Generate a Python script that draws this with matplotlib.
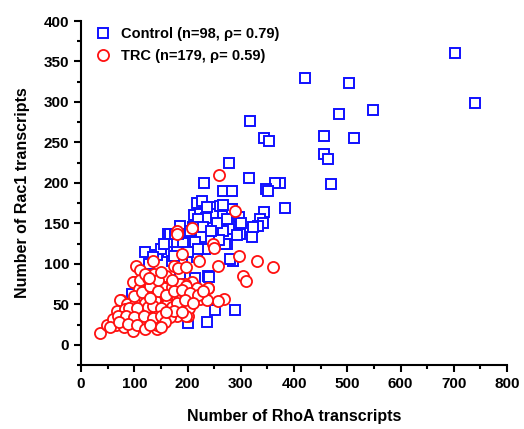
import matplotlib
matplotlib.use("Agg")
import matplotlib.pyplot as plt
from matplotlib.ticker import MultipleLocator

plt.rcParams['font.family'] = ['Liberation Sans', 'DejaVu Sans']

# Control group (blue squares): RhoA vs Rac1 transcripts
control_rhoa = [702, 420, 503, 740, 548, 485, 317, 457, 512, 344, 353, 457, 464, 278, 470,
                374, 315, 231, 365, 267, 283, 348, 352, 384, 343, 245, 266, 283, 217, 228,
                248, 213, 223, 235, 297, 336, 342, 333, 311, 322, 298, 277, 266, 226, 233,
                274, 286, 280, 239, 186, 164, 180, 198, 214, 120, 142, 164, 170, 217, 128,
                161, 252, 289, 237, 200, 323, 292, 270, 220, 192, 183, 167, 180, 127, 95,
                214, 241, 186, 236, 261, 220, 211, 123, 267, 150, 205, 230, 255, 190, 175,
                176, 135, 155, 200, 260, 300, 275, 245]
control_rac1 = [360, 330, 323, 299, 290, 285, 276, 258, 256, 255, 252, 236, 229, 224, 199,
                200, 206, 200, 200, 190, 190, 193, 190, 169, 164, 170, 171, 168, 175, 178,
                161, 160, 162, 157, 158, 156, 151, 147, 142, 133, 137, 143, 140, 133, 118,
                125, 103, 106, 85, 147, 137, 125, 127, 127, 114, 111, 114, 103, 108, 73,
                73, 43, 43, 28, 27, 145, 135, 124, 118, 126, 137, 137, 114, 100, 63,
                83, 84, 88, 170, 172, 155, 145, 75, 173, 118, 140, 145, 150, 100, 110,
                137, 108, 125, 115, 130, 150, 155, 140]

# TRC group (red circles)
trc_rhoa = [259, 289, 209, 180, 180, 248, 249, 189, 221, 297, 330, 360, 258, 305, 309,
            269, 258, 136, 104, 111, 100, 36, 49, 65, 81, 76, 142, 142, 200, 166,
            182, 197, 215, 238, 208, 160, 138, 175, 183, 198, 98, 133, 145, 170, 183,
            195, 83, 73, 87, 95, 111, 120, 101, 85, 123, 136, 139, 158, 170, 180,
            189,
            108, 123, 139, 155, 170, 186, 198, 217, 239,
            117, 133, 148, 164, 180, 195, 211, 224, 236,
            73, 86, 101, 120, 139, 161, 186, 202,
            67, 83, 98, 114, 130, 142, 164, 180, 198,
            61, 76, 92, 111, 123, 142, 167,
            114, 98,
            100, 115, 130, 145, 160, 175, 190, 205, 220, 230,
            90, 105, 125, 135, 150, 170, 180, 195, 210,
            70, 85, 100, 118, 135, 150, 158, 175, 190,
            55, 72, 88, 105, 120, 130, 150, 160, 130,
            110, 125, 145, 170, 120, 150, 128]
trc_rac1 = [210, 165, 144, 140, 137, 125, 120, 112, 104, 110, 104, 96, 97, 85, 79,
            56, 54, 104, 97, 92, 78, 14, 25, 24, 22, 55, 19, 25, 36, 34,
            66, 73, 69, 70, 77, 85, 88, 97, 95, 96, 77, 74, 73, 71, 73,
            75, 32, 38, 41, 26, 28, 40, 48, 50, 69, 71, 55, 50, 59, 65,
            48,
            69, 67, 69, 70, 71, 75, 73, 70, 70,
            59, 61, 63, 57, 59, 63, 59, 57, 55,
            55, 50, 50, 52, 55, 50, 48, 46,
            42, 44, 40, 42, 38, 40, 42, 36, 36,
            32, 34, 32, 30, 30, 28, 34,
            24, 17,
            60, 65, 72, 66, 62, 66, 68, 64, 62, 66,
            45, 45, 47, 48, 45, 47, 52, 55, 52,
            35, 36, 34, 36, 33, 36, 28, 42, 40,
            22, 28, 26, 24, 20, 25, 22, 40, 58,
            80, 82, 80, 80, 88, 90, 83]

legend_labels = ['Control (n=98, \u03c1= 0.79)', 'TRC (n=179, \u03c1= 0.59)']

fig = plt.figure(figsize=(5.24, 4.29), dpi=100)
ax = fig.add_axes([0.1546, 0.1492, 0.8130, 0.8018])

ax.plot(control_rhoa, control_rac1, linestyle='none', marker='s', markersize=7,
        markerfacecolor='white', markeredgecolor='#1010ff', markeredgewidth=1.4,
        label=legend_labels[0])
ax.plot(trc_rhoa, trc_rac1, linestyle='none', marker='o', markersize=8,
        markerfacecolor='white', markeredgecolor='#ff1010', markeredgewidth=1.3,
        label=legend_labels[1])

ax.set_xlim(0, 800)
ax.set_ylim(-25, 400)
ax.xaxis.set_major_locator(MultipleLocator(100))
ax.xaxis.set_minor_locator(MultipleLocator(50))
ax.yaxis.set_major_locator(MultipleLocator(50))
ax.yaxis.set_minor_locator(MultipleLocator(25))

for side in ['top', 'right']:
    ax.spines[side].set_visible(False)
for side in ['left', 'bottom']:
    ax.spines[side].set_linewidth(1.5)

ax.tick_params(which='major', direction='out', length=5, width=1.5, labelsize=11)
ax.tick_params(which='minor', direction='out', length=3, width=1.5)
for lab in ax.get_xticklabels() + ax.get_yticklabels():
    lab.set_fontweight('bold')

ax.set_xlabel('Number of RhoA transcripts', fontsize=11.5, fontweight='bold', labelpad=13)
ax.set_ylabel('Number of Rac1 transcripts', fontsize=11.5, fontweight='bold', labelpad=10)

leg = ax.legend(loc='upper left', bbox_to_anchor=(0.008, 1.012), frameon=False,
                prop={'weight': 'bold', 'size': 10.5}, handletextpad=0.6,
                borderaxespad=0.3, labelspacing=0.55, handlelength=1.2)

fig.savefig('out.png', dpi=100)
